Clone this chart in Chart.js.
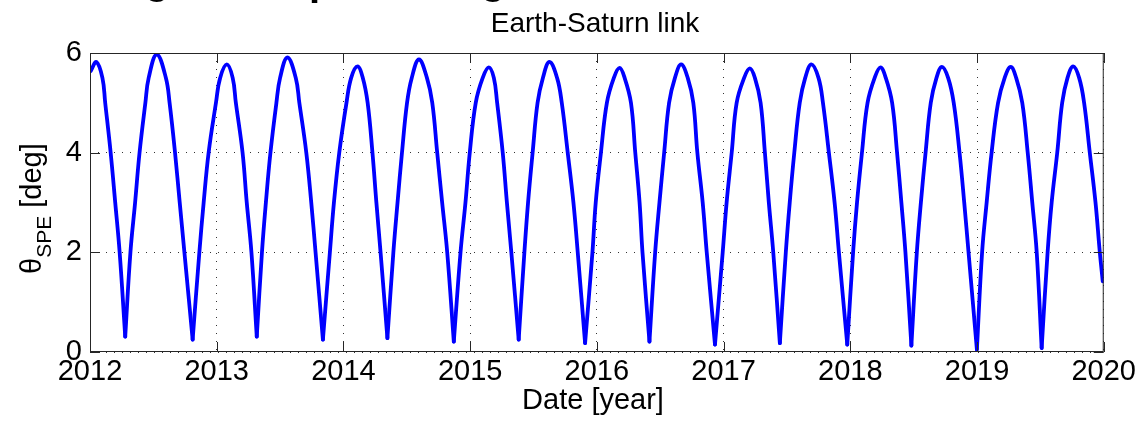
<!DOCTYPE html>
<html>
<head>
<meta charset="utf-8">
<script src="https://cdn.jsdelivr.net/npm/chart.js@4.4.1/dist/chart.umd.min.js"></script>
<style>
  html, body { margin: 0; padding: 0; background: #fff; }
</style>
</head>
<body>
<canvas id="linkChart" width="1139" height="424"></canvas>
<script>
// decimal year of each sample
const dateYears = [
  2012.006, 2012.050, 2012.098, 2012.120, 2012.163, 2012.199, 2012.234, 2012.278,
  2012.319, 2012.356, 2012.391, 2012.437, 2012.463, 2012.527, 2012.599, 2012.628, 2012.671, 2012.708, 2012.745, 2012.810,
  2012.863, 2012.897, 2012.936, 2012.994, 2013.027, 2013.080, 2013.126, 2013.151, 2013.204, 2013.237, 2013.274, 2013.316,
  2013.357, 2013.388, 2013.424, 2013.471, 2013.500, 2013.558, 2013.624, 2013.652, 2013.707, 2013.746, 2013.780, 2013.838,
  2013.893, 2013.925, 2013.967, 2014.024, 2014.061, 2014.111, 2014.153, 2014.191, 2014.229, 2014.260, 2014.293, 2014.347,
  2014.394, 2014.427, 2014.462, 2014.502, 2014.539, 2014.596, 2014.659, 2014.701, 2014.740, 2014.779, 2014.819, 2014.871,
  2014.924, 2014.963, 2014.997, 2015.044, 2015.099, 2015.147, 2015.187, 2015.213, 2015.257, 2015.290, 2015.325, 2015.383,
  2015.428, 2015.457, 2015.493, 2015.532, 2015.574, 2015.626, 2015.686, 2015.723, 2015.770, 2015.815, 2015.849, 2015.907,
  2015.965, 2015.991, 2016.032, 2016.079, 2016.134, 2016.179, 2016.219, 2016.269, 2016.303, 2016.337, 2016.360, 2016.415,
  2016.460, 2016.494, 2016.531, 2016.570, 2016.616, 2016.665, 2016.717, 2016.761, 2016.793, 2016.835, 2016.867, 2016.932,
  2016.993, 2017.024, 2017.064, 2017.103, 2017.162, 2017.207, 2017.247, 2017.292, 2017.326, 2017.357, 2017.392, 2017.444,
  2017.491, 2017.522, 2017.558, 2017.601, 2017.644, 2017.693, 2017.749, 2017.784, 2017.831, 2017.876, 2017.910, 2017.976,
  2018.022, 2018.053, 2018.092, 2018.136, 2018.192, 2018.238, 2018.280, 2018.330, 2018.369, 2018.403, 2018.435, 2018.482,
  2018.525, 2018.557, 2018.594, 2018.635, 2018.680, 2018.723, 2018.772, 2018.816, 2018.862, 2018.899, 2018.933, 2018.999,
  2019.040, 2019.076, 2019.115, 2019.166, 2019.218, 2019.266, 2019.309, 2019.357, 2019.400, 2019.436, 2019.471, 2019.510,
  2019.557, 2019.589, 2019.633, 2019.672, 2019.714, 2019.759, 2019.806, 2019.845, 2019.890, 2019.935, 2019.969, 2019.992
];

// Sun-Probe-Earth angle [deg]
const thetaSPE = [
  5.64, 5.82, 5.5, 5, 4, 3, 2, 0.31,
  2, 3, 4, 5, 5.5, 5.97, 5.5, 5, 4, 3, 2, 0.25,
  2, 3, 4, 5, 5.5, 5.77, 5.5, 5, 4, 3, 2, 0.31,
  2, 3, 4, 5, 5.5, 5.91, 5.5, 5, 4, 3, 2, 0.25,
  2, 3, 4, 5, 5.5, 5.73, 5.5, 5, 4, 3, 2, 0.28,
  2, 3, 4, 5, 5.5, 5.87, 5.5, 5, 4, 3, 2, 0.21,
  2, 3, 4, 5, 5.5, 5.71, 5.5, 5, 4, 3, 2, 0.25,
  2, 3, 4, 5, 5.5, 5.82, 5.5, 5, 4, 3, 2, 0.18,
  2, 3, 4, 5, 5.5, 5.70, 5.5, 5, 4, 3, 2, 0.21,
  2, 3, 4, 5, 5.5, 5.77, 5.5, 5, 4, 3, 2, 0.15,
  2, 3, 4, 5, 5.5, 5.69, 5.5, 5, 4, 3, 2, 0.18,
  2, 3, 4, 5, 5.5, 5.77, 5.5, 5, 4, 3, 2, 0.15,
  2, 3, 4, 5, 5.5, 5.71, 5.5, 5, 4, 3, 2, 0.13,
  2, 3, 4, 5, 5.5, 5.72, 5.5, 5, 4, 3, 2, 0.05,
  2, 3, 4, 5, 5.5, 5.72, 5.5, 5, 4, 3, 2, 0.08,
  2, 3, 4, 5, 5.5, 5.73, 5.5, 5, 4, 3, 2, 1.42
];

const yearTicks = [2012, 2013, 2014, 2015, 2016, 2017, 2018, 2019, 2020];
const thetaTicks = [0, 2, 4, 6];

const FONT = '"Liberation Sans", Arial, Helvetica, sans-serif';

// cut the series at each local minimum so the dips stay sharp
function splitAtMinima(xs, ys) {
  const parts = [];
  let cur = [];
  xs.forEach((x, i) => {
    cur.push({ x: x, y: ys[i] });
    if (i > 0 && i < xs.length - 1 && ys[i] < ys[i - 1] && ys[i] < ys[i + 1]) {
      parts.push(cur);
      cur = [{ x: x, y: ys[i] }];
    }
  });
  if (cur.length > 1) parts.push(cur);
  return parts;
}

// matlab style box with inward ticks
const axesBox = {
  id: 'axesBox',
  afterDatasetsDraw(chart) {
    const ctx = chart.ctx;
    const a = chart.chartArea;
    const xs = chart.scales.x, ys = chart.scales.y;
    ctx.save();
    ctx.strokeStyle = '#262626';
    ctx.lineWidth = 1;
    ctx.strokeRect(a.left + 0.5, a.top + 0.5, a.right - a.left - 1, a.bottom - a.top - 1);
    ctx.beginPath();
    yearTicks.forEach(v => {
      const px = Math.round(xs.getPixelForValue(v)) + 0.5;
      ctx.moveTo(px, a.bottom); ctx.lineTo(px, a.bottom - 10);
      ctx.moveTo(px, a.top); ctx.lineTo(px, a.top + 10);
    });
    thetaTicks.forEach(v => {
      const py = Math.round(ys.getPixelForValue(v)) + 0.5;
      ctx.moveTo(a.left, py); ctx.lineTo(a.left + 10, py);
      ctx.moveTo(a.right, py); ctx.lineTo(a.right - 10, py);
    });
    ctx.stroke();
    ctx.restore();
  }
};

const labels = {
  id: 'labels',
  afterDraw(chart) {
    const ctx = chart.ctx;
    ctx.save();
    ctx.fillStyle = '#000';
    ctx.textBaseline = 'alphabetic';

    // bottom of a heading cut off above the figure
    ctx.font = 'bold 40px ' + FONT;
    ctx.textAlign = 'left';
    ctx.fillText('g', 145, -6);
    ctx.fillText('p', 309, -5);
    ctx.fillText('g', 481, -6);

    ctx.textAlign = 'center';
    ctx.font = '28px ' + FONT;
    ctx.fillText('Earth-Saturn link', 595, 32);

    ctx.font = '29px ' + FONT;
    ctx.fillText('Date [year]', 593, 409);

    // y axis label with subscript
    ctx.translate(41, 274);
    ctx.rotate(-Math.PI / 2);
    ctx.textAlign = 'left';
    ctx.font = '29px ' + FONT;
    ctx.fillText('θ', 0, 0);
    let w = ctx.measureText('θ').width;
    ctx.font = '21px ' + FONT;
    ctx.fillText('SPE', w, 10);
    w += ctx.measureText('SPE').width;
    ctx.font = '29px ' + FONT;
    ctx.fillText(' [deg]', w, 0);
    ctx.restore();
  }
};

const datasets = splitAtMinima(dateYears, thetaSPE).map(part => ({
  data: part,
  borderColor: '#0000ff',
  backgroundColor: '#0000ff',
  borderWidth: 3.8,
  borderCapStyle: 'round',
  borderJoinStyle: 'round',
  pointRadius: 0,
  fill: false,
  tension: 0.4
}));

const ctx = document.getElementById('linkChart');
const linkChart = new Chart(ctx, {
  type: 'line',
  data: { datasets: datasets },
  options: {
    responsive: false,
    animation: false,
    devicePixelRatio: 1,
    layout: { padding: { top: 53, right: 32, left: 0, bottom: 0 } },
    plugins: {
      legend: { display: false },
      tooltip: { enabled: false },
      title: { display: false }
    },
    scales: {
      x: {
        type: 'linear',
        min: 2012,
        max: 2020,
        afterBuildTicks: s => { s.ticks = yearTicks.map(v => ({ value: v })); },
        afterFit: s => { s.height = 72; },
        grid: { color: 'rgba(0,0,0,0.8)', lineWidth: 1, drawTicks: false },
        border: { display: false, dash: [1, 7] },
        ticks: {
          color: '#000',
          font: { family: FONT, size: 29 },
          padding: 3,
          maxRotation: 0,
          autoSkip: false,
          callback: v => String(v)
        }
      },
      y: {
        min: 0,
        max: 6,
        afterBuildTicks: s => { s.ticks = thetaTicks.map(v => ({ value: v })); },
        afterFit: s => { s.width = 90; },
        grid: { color: 'rgba(0,0,0,0.8)', lineWidth: 1, drawTicks: false },
        border: { display: false, dash: [1, 7] },
        ticks: {
          color: '#000',
          font: { family: FONT, size: 29 },
          padding: 8,
          callback: v => String(v)
        }
      }
    }
  },
  plugins: [axesBox, labels]
});
</script>
</body>
</html>
